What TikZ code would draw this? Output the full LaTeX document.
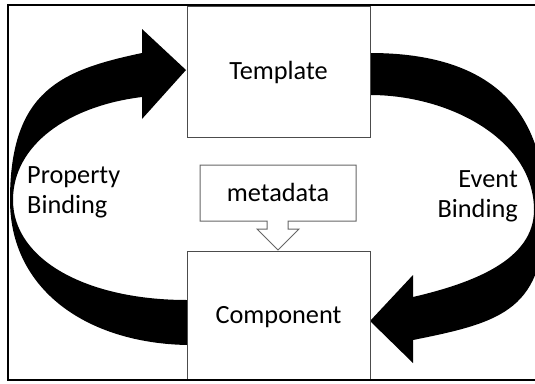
\documentclass[tikz,border=0pt]{standalone}
\usepackage{fontspec}
\setmainfont{Carlito}
\newcommand\lblfont{\fontsize{26.3pt}{30pt}\selectfont}
\begin{document}
\begin{tikzpicture}[x=1pt,y=-1pt,
  frameline/.style={line width=2.5pt, draw=black},
  boxstyle/.style={draw=black!70, line width=1pt, fill=white, minimum width=183pt, inner sep=0pt, font=\lblfont, text height=16pt, text depth=0pt},
  calloutstyle/.style={draw=black!60, line width=1pt, fill=white},
  lbl/.style={font=\lblfont, inner sep=0pt},
  bigarrow/.style={fill=black}]
\useasboundingbox (0,0) rectangle (535,383);
\clip (0,0) rectangle (535,383);
% Property Binding arrow
\fill[bigarrow] (187,300) .. controls (87,300) and (13,260) .. (13,200)
  .. controls (13,145) and (68,106) .. (142,97) -- (142,119) -- (186,70) -- (142,29) -- (142,53)
  .. controls (62,70) and (10,90) .. (10,200)
  .. controls (10,290) and (87,343) .. (187,345) -- cycle;
% Event Binding arrow
\fill[bigarrow] (370,95) .. controls (450,95) and (534,140) .. (534,210)
  .. controls (534,260) and (473,283) .. (413,297) -- (413,275) -- (370,321) -- (413,363) -- (413,340)
  .. controls (503,322) and (545,310) .. (545,210)
  .. controls (545,100) and (480,53) .. (370,53) -- cycle;
% boxes
\node[boxstyle, minimum height=131pt] (tpl) at (278.5,71.5) {Template};
\node[boxstyle, minimum height=129pt] (cmp) at (278.5,315.5) {Component};
% callout
\draw[calloutstyle] (200,165) -- (356,165) -- (356,221) -- (288,221) -- (288,229) -- (299,229) -- (278,250) -- (257,229) -- (267,229) -- (267,221) -- (200,221) -- cycle;
\node[lbl, text height=16pt, text depth=0pt] (meta) at (278,193) {metadata};
% labels
\node[lbl, anchor=base west] (prop1) at (27,183) {Property};
\node[lbl, anchor=base west] (prop2) at (27,213) {Binding};
\node[lbl, anchor=base east] (ev1) at (518,187) {Event};
\node[lbl, anchor=base east] (ev2) at (518,217) {Binding};
% frame
\draw[frameline] (540,5) -- (8,5) -- (8,380) -- (540,380);
\end{tikzpicture}
\end{document}
